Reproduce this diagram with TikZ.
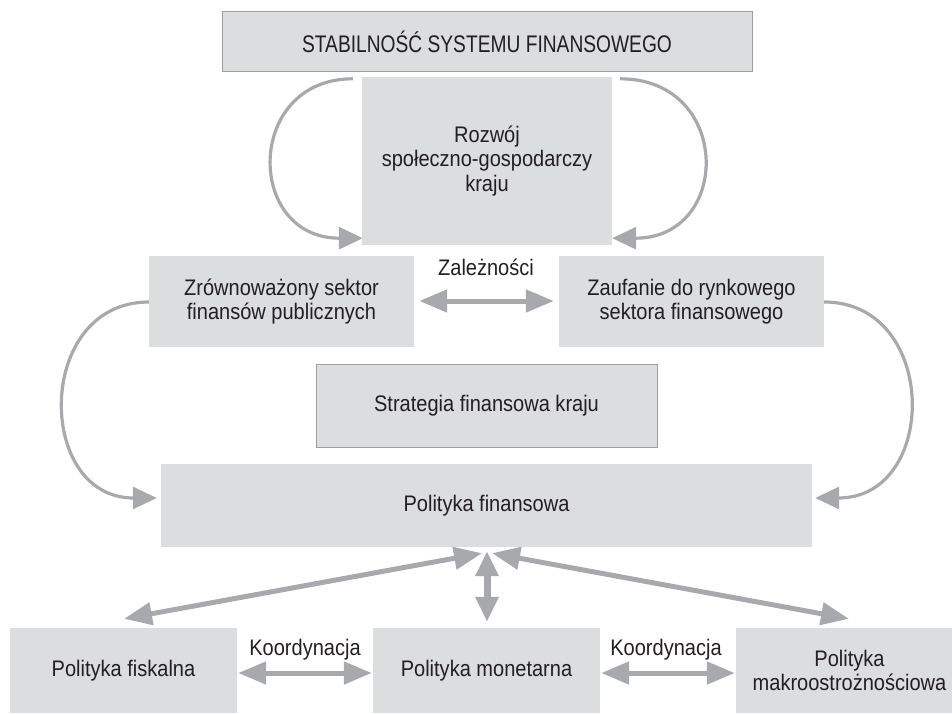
\documentclass[tikz,border=0pt]{standalone}
\usepackage{fontspec}
\setmainfont{Liberation Sans}[FakeStretch=0.89]
\newfontfamily\topfont{Liberation Sans}[FakeStretch=0.80]
\usetikzlibrary{arrows.meta,calc}
\definecolor{boxgray}{HTML}{DCDDDF}
\definecolor{arrgray}{HTML}{A7A9AC}
\definecolor{edgegray}{HTML}{9C9EA1}
\definecolor{txt}{HTML}{231F20}
\begin{document}
\begin{tikzpicture}[x=1pt,y=-1pt,
  box/.style={fill=boxgray, inner sep=0pt, align=center, text=txt,
    font=\fontsize{22.5}{24.5}\selectfont},
  framed/.style={box, draw=edgegray, line width=1pt},
  lbl/.style={text=txt, font=\fontsize{22.5}{24.5}\selectfont, inner sep=0pt, anchor=base},
  curvearr/.style={draw=arrgray, line width=3.2pt, -{Triangle[length=24pt,width=22pt]}},
  dblarr/.style={draw=arrgray, line width=5pt,
    {Triangle[length=28pt,width=22pt]}-{Triangle[length=28pt,width=22pt]}},
]
\useasboundingbox (0,0) rectangle (952,714);

% boxes
\node[framed, minimum width=530pt, minimum height=60pt,
      font=\topfont\fontsize{24}{26}\selectfont] (top) at (487,42)
      {STABILNOŚĆ SYSTEMU FINANSOWEGO};
\node[box, minimum width=250pt, minimum height=167pt] (rozwoj) at (487,161)
      {Rozwój\\społeczno-gospodarczy\\kraju};
\node[box, minimum width=265pt, minimum height=91pt] (zrow) at (281.5,301.5)
      {Zrównoważony sektor\\finansów publicznych};
\node[box, minimum width=265pt, minimum height=91pt] (zauf) at (691.5,301.5)
      {Zaufanie do rynkowego\\sektora finansowego};
\node[framed, minimum width=341pt, minimum height=83pt] (strat) at (486.5,405.5)
      {Strategia finansowa kraju};
\node[box, minimum width=651pt, minimum height=83pt] (pfin) at (486.5,505.5)
      {Polityka finansowa};
\node[box, minimum width=227pt, minimum height=85pt] (fisk) at (123.5,670.5)
      {Polityka fiskalna};
\node[box, minimum width=227pt, minimum height=85pt] (mon) at (486.5,670.5)
      {Polityka monetarna};
\node[box, minimum width=227pt, minimum height=85pt] (makro) at (849.5,670.5)
      {Polityka\\makroostrożnościowa};

% labels
\node[lbl] (zal) at (486,275) {Zależności};
\node[lbl] (koord1) at (305,655) {Koordynacja};
\node[lbl] (koord2) at (666,655) {Koordynacja};

% upper arcs
\draw[curvearr] ($(rozwoj.north west)+(-9,1.5)$) .. controls +(-108,0) and +(-118,0) ..
      ($(rozwoj.south west)+(1,-6.5)$);
\draw[curvearr] ($(rozwoj.north east)+(8,1.5)$) .. controls +(112,0) and +(120,0) ..
      ($(rozwoj.south east)+(0,-6.5)$);

% lower arcs
\draw[curvearr] ($(zrow.west)+(0,0.5)$) .. controls +(-114,0) and +(-122,0) ..
      ($(pfin.west)+(-4,-7.5)$);
\draw[curvearr] ($(zauf.east)+(0,0.5)$) .. controls +(115,0) and +(124,0) ..
      ($(pfin.east)+(3,-7.5)$);

% dependencies / coordination
\draw[dblarr] ($(zrow.east)+(5,-0.5)$) -- ($(zauf.west)+(-5,-0.5)$);
\draw[dblarr] ($(fisk.east)+(1,2.5)$) -- ($(mon.west)+(-1,2.5)$);
\draw[dblarr] ($(mon.east)+(1,2.5)$) -- ($(makro.west)+(-1,2.5)$);

% from financial policy
\draw[dblarr] ($(pfin.south)+(-4.5,6)$) -- ($(fisk.north)+(0.5,-9)$);
\draw[dblarr] ($(pfin.south)+(5.5,6)$) -- ($(makro.north)+(-0.5,-9)$);
\draw[draw=arrgray, line width=7pt,
      {Triangle[length=25pt,width=22pt]}-{Triangle[length=25pt,width=22pt]}]
      ($(pfin.south)+(0.5,4)$) -- ($(mon.north)+(0.5,-6)$);
\end{tikzpicture}
\end{document}
